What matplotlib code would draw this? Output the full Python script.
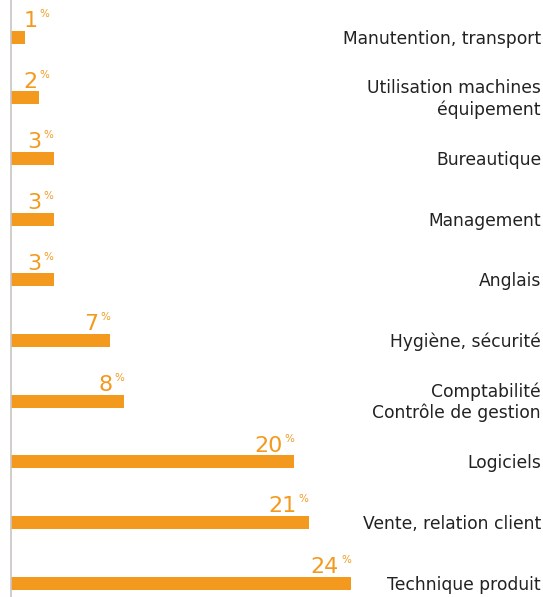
import matplotlib
matplotlib.use("Agg")
import matplotlib.pyplot as plt
import matplotlib.transforms as mtransforms

categories = ["Manutention, transport", "Utilisation machines\néquipement", "Bureautique",
              "Management", "Anglais", "Hygiène, sécurité",
              "Comptabilité\nContrôle de gestion", "Logiciels",
              "Vente, relation client", "Technique produit"]
values = [1, 2, 3, 3, 3, 7, 8, 20, 21, 24]

W, H, DPI = 543, 597, 100
fig = plt.figure(figsize=(W / DPI, H / DPI), dpi=DPI)
left_px, right_px = 11, 543
ax = fig.add_axes([left_px / W, 0, (right_px - left_px) / W, 1])

orange = "#F39A1E"
px_per_unit = 14.17
spacing = 60.67
c0 = 37
n = len(values)
ys = list(range(n))
ax.barh(ys, values, height=13 / spacing, color=orange, align="center")
ax.set_xlim(0, (right_px - left_px) / px_per_unit)
ax.set_ylim((H - c0) / spacing, -c0 / spacing)

for s in ["top", "right", "bottom"]:
    ax.spines[s].set_visible(False)
ax.spines["left"].set_color("#c9c5c1")
ax.spines["left"].set_linewidth(1.2)
ax.set_xticks([])
ax.set_yticks([])

trans = mtransforms.blended_transform_factory(ax.transAxes, ax.transData)
for y, cat in zip(ys, categories):
    ax.annotate(cat, xy=((541 - left_px) / (right_px - left_px), y), xycoords=trans,
                xytext=(0, -1.5), textcoords="offset pixels",
                ha="right", va="center", fontsize=12.3, color="#222222",
                family="DejaVu Sans", linespacing=1.2)

for y, v in zip(ys, values):
    anchor = max(v, 2.7)
    ax.annotate("%", xy=(anchor, y - 20 / spacing), ha="right", va="baseline",
                fontsize=7.5, color=orange)
    ax.annotate(str(v), xy=(anchor, y - 11 / spacing), xytext=(-12, -1),
                textcoords="offset pixels", ha="right", va="baseline",
                fontsize=16, color=orange)

fig.savefig("out.png", dpi=DPI)
